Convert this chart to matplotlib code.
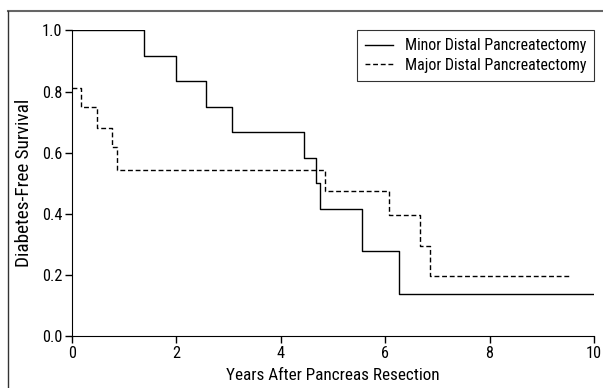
import matplotlib
matplotlib.use("Agg")
import matplotlib.pyplot as plt
from matplotlib import font_manager
from matplotlib.lines import Line2D

# step times (years) and survival values
minor_t = [0, 1.38, 1.99, 2.57, 3.07, 4.45, 4.67, 4.76, 5.56, 6.26, 10.0]
minor_s = [1.0, 0.917, 0.833, 0.75, 0.667, 0.583, 0.5, 0.417, 0.278, 0.139, 0.139]
major_t = [0, 0.17, 0.47, 0.77, 0.87, 4.85, 6.07, 6.67, 6.86, 9.55]
major_s = [0.812, 0.75, 0.682, 0.618, 0.545, 0.476, 0.395, 0.295, 0.196, 0.196]
labels = ["Minor Distal Pancreatectomy", "Major Distal Pancreatectomy"]

# pick a condensed sans if one is installed
names = {f.name for f in font_manager.fontManager.ttflist}
condensed = sorted(n for n in names if "Narrow" in n or "Condensed" in n)
prefs = ["Liberation Sans Narrow", "Roboto Condensed", "Open Sans Condensed"] + condensed
family = next((n for n in prefs if n in names), "Liberation Sans")

plt.rcParams["font.family"] = [family, "DejaVu Sans"]
plt.rcParams["font.size"] = 10.5

fig = plt.figure(figsize=(6.03, 3.88), dpi=100)
ax = fig.add_axes([72 / 603, 1 - 336.3 / 388, 522 / 603, 306 / 388])

ax.step(minor_t, minor_s, where="post", color="black", lw=1.0, label=labels[0])
ax.step(major_t, major_s, where="post", color="black", lw=1.0,
        linestyle=(0, (3.5, 2.0)), label=labels[1])

ax.set_xlim(0, 10)
ax.set_ylim(0, 1.0)
ax.set_xticks([0, 2, 4, 6, 8, 10])
ax.set_yticks([0, 0.2, 0.4, 0.6, 0.8, 1.0])
ax.set_yticklabels(["0.0", "0.2", "0.4", "0.6", "0.8", "1.0"])
ax.spines["top"].set_visible(False)
ax.spines["right"].set_visible(False)
ax.tick_params(direction="out", length=5, width=1, pad=2)
xl = ax.set_xlabel("Years After Pancreas Resection", labelpad=5, fontsize=13)
yl = ax.set_ylabel("Diabetes-Free Survival", labelpad=6, fontsize=13)

leg = ax.legend(loc="upper right", frameon=True, fancybox=False,
                edgecolor="black", borderaxespad=0, handlelength=1.75,
                handletextpad=0.7, borderpad=0.5, labelspacing=0.3,
                fontsize=11.5)
leg.get_frame().set_linewidth(0.8)

# fit text sizes to the widths measured on the reference (pixels)
fig.canvas.draw()
r = fig.canvas.get_renderer()
bb = xl.get_window_extent(r)
xl.set_fontsize(xl.get_fontsize() * 212 / bb.width)
bb = yl.get_window_extent(r)
yl.set_fontsize(yl.get_fontsize() * 168 / bb.height)
t = leg.get_texts()[0]
s = t.get_fontsize() * 181 / t.get_window_extent(r).width
for t in leg.get_texts():
    t.set_fontsize(s)
lab = ax.get_yticklabels()[-1]
ts = lab.get_fontsize() * 20.5 / lab.get_window_extent(r).width
ax.tick_params(labelsize=ts)

# outer frame lines (top and left)
fig.add_artist(Line2D([8 / 603, 1], [1 - 11 / 388, 1 - 11 / 388],
                      transform=fig.transFigure, color="#666666", lw=1.5))
fig.add_artist(Line2D([8 / 603, 8 / 603], [0, 1 - 11 / 388],
                      transform=fig.transFigure, color="#333333", lw=1.0))

fig.savefig("out.png", dpi=100)
